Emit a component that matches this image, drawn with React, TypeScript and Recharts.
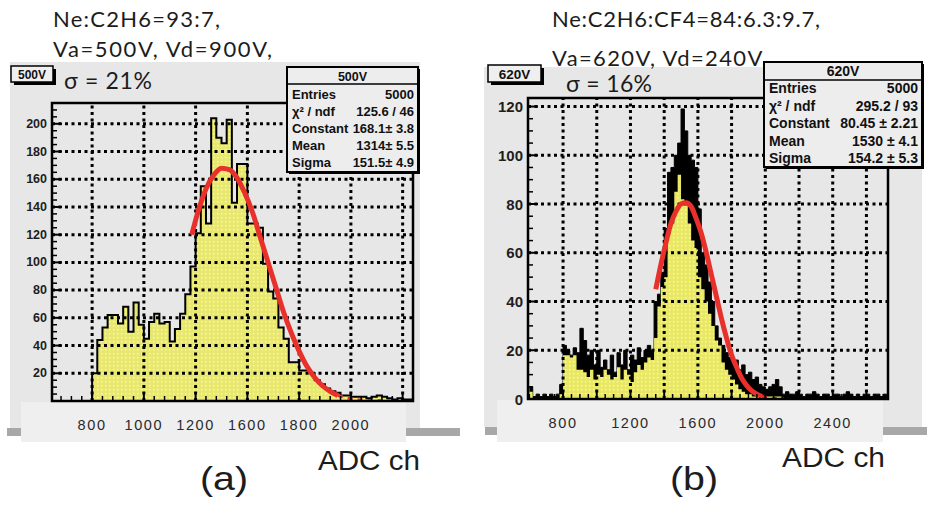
import React from "react";
import {
  ComposedChart,
  Area,
  Line,
  XAxis,
  YAxis,
  ReferenceLine,
} from "recharts";

// ---------- (a) Ne:C2H6=93:7, Va=500V, Vd=900V ----------
const binWidthA = 20;
const firstBinA = 640;
const countsA = [
  0, 0, 0, 0, 0, 0, 0, 0,
  20, 44, 53, 62, 62, 56, 68, 50, 71, 55,
  45, 57, 63, 56, 57, 43, 52, 63, 77, 97,
  121, 155, 128, 204, 190, 186, 203, 143, 171, 171,
  128, 128, 125, 99, 79, 74, 53, 45, 28, 28,
  22, 22, 20, 15, 12, 9, 7, 6, 4, 4,
  3, 3, 3, 2, 3, 4, 3, 2, 1, 2,
  1, 1,
];
// gaussian fit as drawn (solid part, then the dashed continuation)
const fitAdcA = [1185, 1210, 1240, 1270, 1300, 1330, 1360, 1390, 1420, 1450, 1480, 1510, 1540, 1570, 1600, 1630, 1660, 1690, 1720, 1750];
const fitValA = [120, 137, 153, 163, 168, 167, 161, 150, 136, 118, 100, 82, 64, 49, 36, 25, 17, 11, 7, 4];
const tailAdcA = [1750, 1800, 1850, 1900, 1950];
const tailValA = [4, 1.6, 0.6, 0.2, 0.1];

const xDomainA = [645, 2040];
const yDomainA = [0, 215];
const xGridA = [800, 1000, 1200, 1400, 1600, 1800, 2000];
const xLabelsA = ["800", "1000", "1200", "1600", "1800", "2000", ""];
const yGridA = [20, 40, 60, 80, 100, 120, 140, 160, 180, 200];
const statsA = [
  ["Entries", "5000"],
  ["χ² / ndf", "125.6 / 46"],
  ["Constant", "168.1± 3.8"],
  ["Mean", "1314± 5.5"],
  ["Sigma", "151.5± 4.9"],
];

// ---------- (b) Ne:C2H6:CF4=84:6.3:9.7, Va=620V, Vd=240V ----------
const binWidthB = 20;
const firstBinB = 600;
// top of the black band
const upperB = [
  5, 1, 2, 1, 2, 1, 2, 1, 2, 6,
  22, 20, 18, 21, 19, 29, 24, 18, 20, 14,
  20, 13, 16, 12, 18, 11, 19, 14, 20, 12,
  18, 16, 21, 17, 20, 22, 20, 40, 43, 52,
  70, 93, 95, 100, 105, 119, 110, 100, 98, 95,
  78, 60, 55, 48, 40, 30, 25, 22, 19, 17,
  15, 16, 12, 14, 10, 11, 8, 9, 6, 5,
  4, 5, 6, 8, 5, 2, 3, 2, 2, 3,
  2, 1, 2, 2, 3, 2, 1, 2, 2, 1,
  2, 2, 1, 2, 3, 2, 1, 2, 1, 2,
  2, 1, 2, 2, 1, 2,
];
// top of the yellow fill
const lowerB = [
  3, 0, 0, 0, 0, 0, 0, 0, 0, 2,
  18, 18, 17, 18, 12, 12, 11, 9, 12, 8,
  10, 9, 12, 10, 8, 9, 13, 8, 12, 10,
  7, 11, 14, 12, 15, 17, 16, 25, 38, 46,
  50, 68, 72, 85, 92, 82, 80, 72, 65, 62,
  50, 45, 40, 35, 30, 24, 22, 15, 12, 10,
  8, 6, 4, 3, 2, 2, 1, 1, 1, 1,
  1, 1, 1, 1, 1, 0, 0, 0, 0, 0,
  0, 0, 0, 0, 0, 0, 0, 0, 0, 0,
  0, 0, 0, 0, 0, 0, 0, 0, 0, 0,
  0, 0, 0, 0, 0, 0,
];
const fitAdcB = [1350, 1380, 1410, 1440, 1470, 1500, 1530, 1560, 1590, 1620, 1650, 1680, 1710, 1740, 1770, 1800, 1830, 1860, 1890, 1920, 1950, 1980];
const fitValB = [45, 55, 64, 72, 77, 80, 80.5, 79, 74, 68, 60, 51, 42, 33, 25, 18, 13, 8.5, 5.5, 3.3, 2, 1];
const tailAdcB = [1980, 2020, 2060, 2110];
const tailValB = [1, 0.5, 0.2, 0.1];

const xDomainB = [592, 2728];
const yDomainB = [0, 123.5];
const xGridB = [800, 1000, 1200, 1400, 1600, 1800, 2000, 2200, 2400, 2600];
const xLabelsB = ["800", "", "1200", "", "1600", "", "2000", "", "2400", ""];
const yGridB = [20, 40, 60, 80, 100, 120];
const yLabelsB = [0, 20, 40, 60, 80, 100, 120];
const statsB = [
  ["Entries", "5000"],
  ["χ² / ndf", "295.2 / 93"],
  ["Constant", "80.45 ± 2.21"],
  ["Mean", "1530 ± 4.1"],
  ["Sigma", "154.2 ± 5.3"],
];

const SANS = "'Liberation Sans', Arial, sans-serif";
const LATO = "Lato, 'Open Sans', sans-serif";
const RED = "#e8312b";

const steps = (from: number, to: number, step: number) => {
  const out: number[] = [];
  for (let v = from; v <= to; v += step) out.push(v);
  return out;
};

const toHist = (first: number, width: number, counts: number[]) => [
  ...counts.map((c, i) => ({ adc: first + i * width, count: c })),
  { adc: first + counts.length * width, count: 0 },
];

const toCurve = (xs: number[], ys: number[]) => xs.map((x, i) => ({ adc: x, fit: ys[i] }));

const makeXTick = (majors: number[], labels: string[]) => (props: any) => {
  const { x, y, payload } = props;
  const i = majors.indexOf(payload.value);
  const major = i >= 0;
  return (
    <g>
      <line x1={x} x2={x} y1={y} y2={y - (major ? 9 : 5)} stroke="#000" strokeWidth={major ? 2 : 1.5} />
      {major && labels[i] ? (
        <text x={x} y={y + 24} textAnchor="middle" dominantBaseline="central" fontFamily={SANS} fontSize={14.5} letterSpacing={1.6} fill="#2a2a2a">
          {labels[i]}
        </text>
      ) : null}
    </g>
  );
};

const makeYTick = (majors: number[], labels: number[], fs: number) => (props: any) => {
  const { x, y, payload } = props;
  const v = payload.value;
  const major = majors.includes(v);
  return (
    <g>
      <line x1={x} x2={x + (major ? 10 : 5)} y1={y} y2={y} stroke="#000" strokeWidth={major ? 2 : 1.5} />
      {labels.includes(v) ? (
        <text x={x - 5} y={y} textAnchor="end" dominantBaseline="central" fontFamily={SANS} fontWeight="bold" fontSize={fs} fill="#1e1e1e">
          {v}
        </text>
      ) : null}
    </g>
  );
};

type PanelProps = {
  left: number;
  width: number;
  margin: { top: number; right: number; bottom: number; left: number };
  upper: { adc: number; count: number }[];
  lower?: { adc: number; count: number }[];
  fit: { adc: number; fit: number }[];
  tail: { adc: number; fit: number }[];
  xDomain: number[];
  yDomain: number[];
  xGrid: number[];
  xLabels: string[];
  yGrid: number[];
  yLabels: number[];
  xMinor: number[];
  yMinor: number[];
  yFont: number;
  patternId: string;
};

const gridStyle = { stroke: "#000", strokeWidth: 3, strokeDasharray: "3 3.5" };

function Panel(p: PanelProps) {
  const fillUrl = `url(#${p.patternId})`;
  const { top, right, bottom, left } = p.margin;
  return (
    <div style={{ position: "absolute", left: p.left, top: 0 }}>
      <ComposedChart width={p.width} height={480} margin={p.margin}>
        <defs>
          <pattern id={p.patternId} width={4} height={4} patternUnits="userSpaceOnUse">
            <rect width={4} height={4} fill="#e8e866" />
            <rect x={1} y={1} width={1.4} height={1.4} fill="#f7f7c4" />
          </pattern>
        </defs>
        <XAxis
          type="number"
          dataKey="adc"
          domain={p.xDomain}
          allowDataOverflow
          ticks={p.xMinor}
          interval={0}
          height={30}
          tickSize={0}
          tickMargin={0}
          axisLine={false}
          tickLine={false}
          tick={makeXTick(p.xGrid, p.xLabels)}
        />
        <YAxis
          type="number"
          domain={p.yDomain}
          allowDataOverflow
          ticks={p.yMinor}
          interval={0}
          width={40}
          tickSize={0}
          tickMargin={0}
          axisLine={false}
          tickLine={false}
          tick={makeYTick(p.yGrid, p.yLabels, p.yFont)}
        />
        {p.yGrid.map((v) => (
          <ReferenceLine key={`h${v}`} y={v} {...gridStyle} />
        ))}
        {p.xGrid.map((v) => (
          <ReferenceLine key={`v${v}`} x={v} {...gridStyle} />
        ))}
        {p.lower ? (
          <Area
            data={p.upper}
            dataKey="count"
            type="stepAfter"
            stroke="#000"
            strokeWidth={1}
            fill="#000"
            fillOpacity={1}
            isAnimationActive={false}
          />
        ) : (
          <Area
            data={p.upper}
            dataKey="count"
            type="stepAfter"
            stroke="#000"
            strokeWidth={2}
            fill={fillUrl}
            fillOpacity={0.92}
            isAnimationActive={false}
          />
        )}
        {p.lower ? (
          <Area
            data={p.lower}
            dataKey="count"
            type="stepAfter"
            stroke="none"
            fill={fillUrl}
            fillOpacity={1}
            isAnimationActive={false}
          />
        ) : null}
        <Line
          data={p.fit}
          dataKey="fit"
          type="monotone"
          stroke={RED}
          strokeWidth={5}
          dot={false}
          isAnimationActive={false}
        />
        <Line
          data={p.tail}
          dataKey="fit"
          type="monotone"
          stroke={RED}
          strokeWidth={3}
          strokeDasharray="5 5"
          dot={false}
          isAnimationActive={false}
        />
      </ComposedChart>
      {/* ROOT frame around the plotting area */}
      <svg
        width={p.width}
        height={480}
        style={{ position: "absolute", left: 0, top: 0, pointerEvents: "none" }}
      >
        <rect
          x={left + 40}
          y={top}
          width={p.width - left - 40 - right}
          height={480 - top - bottom - 30}
          fill="none"
          stroke="#000"
          strokeWidth={2.5}
        />
      </svg>
    </div>
  );
}

function LabelBox({ x, y, w, h, text, fs }: { x: number; y: number; w: number; h: number; text: string; fs: number }) {
  return (
    <g>
      <rect x={x + 3} y={y + 3} width={w} height={h} fill="#000" />
      <rect x={x} y={y} width={w} height={h} fill="#efefef" stroke="#000" strokeWidth={1.5} />
      <text
        x={x + w / 2}
        y={y + h / 2 + 1}
        textAnchor="middle"
        dominantBaseline="central"
        fontFamily={SANS}
        fontWeight="bold"
        fontSize={fs}
        fill="#111"
      >
        {text}
      </text>
    </g>
  );
}

function StatsBox(props: {
  x: number; y: number; w: number; h: number; title: string; rows: string[][];
  fs: number; titleFs: number; titleBase: number; sepY: number; firstBase: number; step: number;
}) {
  const { x, y, w, h, title, rows, fs, titleFs, titleBase, sepY, firstBase, step } = props;
  return (
    <g>
      <rect x={x + 2} y={y + 2} width={w} height={h} fill="#000" />
      <rect x={x} y={y} width={w} height={h} fill="#ededed" stroke="#000" strokeWidth={2} />
      <line x1={x} x2={x + w} y1={sepY} y2={sepY} stroke="#000" strokeWidth={1.5} />
      <text x={x + w / 2} y={titleBase} textAnchor="middle" fontFamily={SANS} fontWeight="bold" fontSize={titleFs} fill="#111">
        {title}
      </text>
      {rows.map(([k, v], i) => (
        <g key={k}>
          <text x={x + 5} y={firstBase + i * step} fontFamily={SANS} fontWeight="bold" fontSize={fs} fill="#111">
            {k}
          </text>
          <text x={x + w - 4} y={firstBase + i * step} textAnchor="end" fontFamily={SANS} fontWeight="bold" fontSize={fs} fill="#111">
            {v}
          </text>
        </g>
      ))}
    </g>
  );
}

export default function App() {
  const histA = toHist(firstBinA, binWidthA, countsA);
  const upper = toHist(firstBinB, binWidthB, upperB);
  const lower = toHist(firstBinB, binWidthB, lowerB);

  return (
    <div>
      {/* ROOT canvases and the pasted tick-label strips */}
      <svg width={927} height={510} style={{ position: "absolute", left: 0, top: 0 }}>
        <rect x={7} y={428} width={453} height={8} fill="#a8a8a8" />
        <rect x={10} y={62} width={410} height={366} fill="#e7e7e7" />
        <rect x={21} y={402} width={385} height={40} fill="#efefef" />
        <rect x={485} y={427} width={442} height={8} fill="#a8a8a8" />
        <rect x={484} y={67} width={438} height={360} fill="#e7e7e7" />
        <rect x={497} y={400} width={386} height={42} fill="#efefef" />
      </svg>

      <Panel
        left={0}
        width={460}
        margin={{ top: 103, right: 47, bottom: 49, left: 12 }}
        upper={histA}
        fit={toCurve(fitAdcA, fitValA)}
        tail={toCurve(tailAdcA, tailValA)}
        xDomain={xDomainA}
        yDomain={yDomainA}
        xGrid={xGridA}
        xLabels={xLabelsA}
        yGrid={yGridA}
        yLabels={yGridA}
        xMinor={steps(680, 2000, 40)}
        yMinor={steps(5, 210, 5)}
        yFont={12.5}
        patternId="dotsA"
      />
      <Panel
        left={460}
        width={467}
        margin={{ top: 98, right: 39, bottom: 51, left: 28 }}
        upper={upper}
        lower={lower}
        fit={toCurve(fitAdcB, fitValB)}
        tail={toCurve(tailAdcB, tailValB)}
        xDomain={xDomainB}
        yDomain={yDomainB}
        xGrid={xGridB}
        xLabels={xLabelsB}
        yGrid={yGridB}
        yLabels={yLabelsB}
        xMinor={steps(600, 2700, 50)}
        yMinor={steps(0, 120, 5)}
        yFont={15}
        patternId="dotsB"
      />

      {/* annotations, pave labels and stat boxes */}
      <svg width={927} height={510} style={{ position: "absolute", left: 0, top: 0, pointerEvents: "none" }}>
        <text x={53} y={27} fontFamily={LATO} fontSize={22} fill="#1c1c1c" textLength={167}>Ne:C2H6=93:7,</text>
        <text x={53} y={57} fontFamily={LATO} fontSize={22} fill="#1c1c1c" textLength={219}>Va=500V, Vd=900V,</text>
        <text x={64} y={89} fontFamily={LATO} fontSize={23} fill="#1c1c1c" textLength={88}>σ = 21%</text>
        <LabelBox x={11} y={66} w={42} h={16} text="500V" fs={12} />
        <StatsBox
          x={287} y={67} w={131} h={105} title="500V" rows={statsA}
          fs={13} titleFs={12.5} titleBase={81} sepY={84} firstBase={99} step={17}
        />
        <text x={318} y={470} fontFamily={SANS} fontSize={27} fill="#1c1c1c" textLength={102} lengthAdjust="spacingAndGlyphs">ADC ch</text>
        <text x={200} y={490} fontFamily={SANS} fontSize={34} fill="#1c1c1c" textLength={48} lengthAdjust="spacingAndGlyphs">(a)</text>

        <text x={552} y={27} fontFamily={LATO} fontSize={22} fill="#1c1c1c" textLength={268}>Ne:C2H6:CF4=84:6.3:9.7,</text>
        <text x={552} y={66} fontFamily={LATO} fontSize={22} fill="#1c1c1c" textLength={215}>Va=620V, Vd=240V,</text>
        <text x={566} y={92} fontFamily={LATO} fontSize={23} fill="#1c1c1c" textLength={86}>σ = 16%</text>
        <LabelBox x={488} y={65} w={53} h={17} text="620V" fs={13.5} />
        <StatsBox
          x={764} y={62} w={158} h={105} title="620V" rows={statsB}
          fs={14} titleFs={14} titleBase={76} sepY={80} firstBase={93} step={17.5}
        />
        <text x={782} y={467} fontFamily={SANS} fontSize={27} fill="#1c1c1c" textLength={103} lengthAdjust="spacingAndGlyphs">ADC ch</text>
        <text x={670} y={490} fontFamily={SANS} fontSize={34} fill="#1c1c1c" textLength={48} lengthAdjust="spacingAndGlyphs">(b)</text>
      </svg>
    </div>
  );
}
